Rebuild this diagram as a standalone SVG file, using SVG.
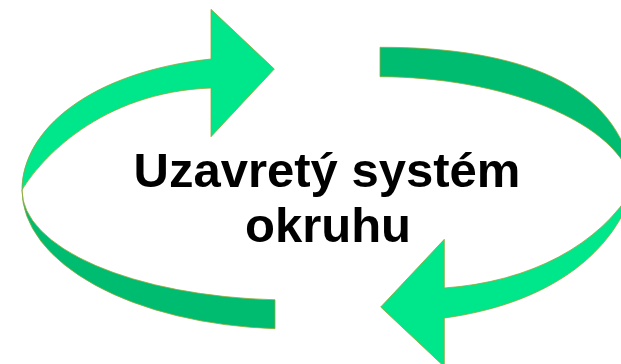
<svg xmlns="http://www.w3.org/2000/svg" width="621" height="364" viewBox="0 0 621 364">
  <style>
    .front { fill: #00E68B; stroke: #8FA83A; stroke-width: 0.8; stroke-linejoin: miter; }
    .back { fill: #00BC70; stroke: #8FA83A; stroke-width: 0.8; }
    .label { font-family: "Liberation Sans", Arial, sans-serif; font-weight: bold; font-size: 49px; fill: #000; text-anchor: middle; }
  </style>
  <rect width="621" height="364" fill="#fff"/>
  <g id="arrow-left">
    <path class="back" d="M 22,190 A 270 139 0 0 0 275,328.7 L 275,299.8 A 270 110 0 0 1 22,190 Z"/>
    <path class="front" d="M 22,190 C 22,130 90,72 211,59 L 211,9.3 L 274.3,69 L 211,136.7 L 211,88 C 100,92 40,160 22,190 Z"/>
  </g>
  <g id="arrow-right">
    <path class="back" d="M 380,47.3 C 520,47 625,85 634,187 C 620,120 500,77 380,76.7 Z"/>
    <path class="front" d="M 634,187 C 600,245 530,282 444.3,288 L 444.3,239.3 L 380.7,307 L 444.3,366.7 L 444.3,318 C 540,305 612,260 634,187 Z"/>
  </g>
  <g id="title">
    <text class="label" x="327" y="186.5">Uzavretý systém</text>
    <text class="label" x="328" y="241.5">okruhu</text>
  </g>
</svg>
